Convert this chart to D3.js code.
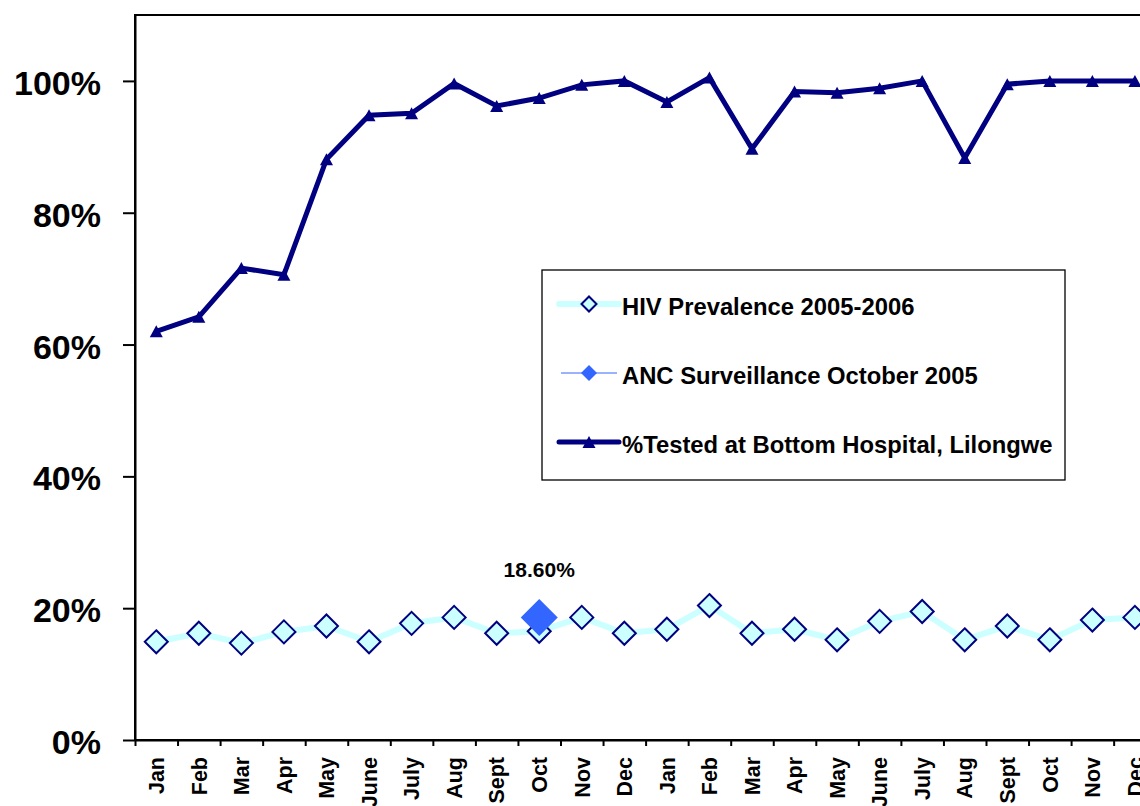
<!DOCTYPE html>
<html>
<head>
<meta charset="utf-8">
<script src="https://cdn.jsdelivr.net/npm/d3@7"></script>
<style>
  html, body { margin: 0; padding: 0; background: #fff; }
  svg { display: block; font-family: "Liberation Sans", Arial, sans-serif; font-weight: bold; }
</style>
</head>
<body>
<svg id="chart" width="1140" height="806"></svg>
<script>
// ---- Data ----
const months = ["Jan","Feb","Mar","Apr","May","June","July","Aug","Sept","Oct","Nov","Dec",
                "Jan","Feb","Mar","Apr","May","June","July","Aug","Sept","Oct","Nov","Dec"];
const hivPrevalence = [0.149,0.162,0.147,0.164,0.173,0.149,0.177,0.186,0.162,0.165,0.186,0.162,
                       0.168,0.204,0.162,0.168,0.152,0.180,0.195,0.152,0.173,0.152,0.182,0.186];
const testedPct = [0.620,0.642,0.716,0.706,0.881,0.948,0.951,0.996,0.962,0.974,0.994,1.000,
                   0.968,1.005,0.897,0.984,0.982,0.989,1.000,0.883,0.995,1.000,1.000,1.000];
const ancIndex = [9];
const ancValue = [0.186];
const ancLabel = ["18.60%"];
const yTickValues = [0, 0.2, 0.4, 0.6, 0.8, 1.0];
const yTickLabels = ["0%","20%","40%","60%","80%","100%"];
const legendLabels = ["HIV Prevalence 2005-2006", "ANC Surveillance October 2005", "%Tested at Bottom Hospital, Lilongwe"];

// ---- Layout ----
const svg = d3.select("#chart");
const pLeft = 135, pTop = 15, pBottom = 740, pRight = 135 + 24 * 42.55;
const navy = "#000080", cyan = "#CCFFFF", blue = "#3366FF";

const idx = d3.range(months.length);
const x = d3.scaleBand().domain(idx).range([pLeft, pRight]).paddingInner(0).paddingOuter(0);
const xBound = d3.scaleLinear().domain([0, months.length]).range([pLeft, pRight]);
const cx = i => x(i) + x.bandwidth() / 2;
const y = d3.scaleLinear().domain([0, 1.1]).range([pBottom, pTop]);

// plot frame
svg.append("rect").attr("x", pLeft).attr("y", pTop).attr("width", pRight - pLeft).attr("height", pBottom - pTop)
  .attr("fill", "none").attr("stroke", "#000").attr("stroke-width", 2);

// Y axis
const yAxis = d3.axisLeft(y).tickValues(yTickValues).tickFormat((d, i) => yTickLabels[i])
  .tickSize(12).tickSizeOuter(0).tickPadding(22);
const gy = svg.append("g").attr("transform", `translate(${pLeft},0)`).call(yAxis);
gy.select(".domain").attr("stroke", "#000").attr("stroke-width", 2);
gy.selectAll(".tick line").attr("stroke", "#000").attr("stroke-width", 2);
gy.selectAll(".tick text").attr("font-size", 34).attr("font-weight", "bold").attr("fill", "#000")
  .attr("font-family", "Liberation Sans, Arial, sans-serif").attr("dy", "0.40em");

// X axis: tick marks at category boundaries
const xAxisTicks = d3.axisBottom(xBound).tickValues(d3.range(months.length + 1)).tickFormat("").tickSize(6).tickSizeOuter(0);
const gx = svg.append("g").attr("transform", `translate(0,${pBottom})`).call(xAxisTicks);
gx.select(".domain").attr("stroke", "#000").attr("stroke-width", 2);
gx.selectAll(".tick line").attr("stroke", "#000").attr("stroke-width", 2);

// X labels, rotated
svg.append("g").selectAll("text").data(idx).join("text")
  .attr("transform", i => `translate(${cx(i)},757) rotate(-90)`)
  .attr("dy", "0.36em")
  .attr("text-anchor", "end")
  .attr("font-size", 21.5)
  .attr("fill", "#000")
  .text(i => months[i]);

const diamond = r => `M0,${-r}L${r},0L0,${r}L${-r},0Z`;
const triangle = (w, h) => `M0,${-h/2}L${w/2},${h/2}L${-w/2},${h/2}Z`;

// HIV prevalence line
const line = d3.line().x((d, i) => cx(i)).y(d => y(d));
svg.append("path").datum(hivPrevalence).attr("d", line)
  .attr("fill", "none").attr("stroke", cyan).attr("stroke-width", 6).attr("stroke-linejoin", "round");
svg.append("g").selectAll("path").data(hivPrevalence).join("path")
  .attr("transform", (d, i) => `translate(${cx(i)},${y(d)})`)
  .attr("d", diamond(11.5))
  .attr("fill", cyan).attr("stroke", navy).attr("stroke-width", 2);

// ANC surveillance point
svg.append("g").selectAll("path").data(ancIndex).join("path")
  .attr("transform", (d, k) => `translate(${cx(d)},${y(ancValue[k])})`)
  .attr("d", diamond(18.5))
  .attr("fill", blue);
svg.append("g").selectAll("text").data(ancIndex).join("text")
  .attr("x", d => cx(d)).attr("y", (d, k) => y(ancValue[k]) - 40)
  .attr("text-anchor", "middle").attr("font-size", 21).attr("fill", "#000")
  .text((d, k) => ancLabel[k]);

// Tested line
svg.append("path").datum(testedPct).attr("d", line)
  .attr("fill", "none").attr("stroke", navy).attr("stroke-width", 5).attr("stroke-linejoin", "miter");
svg.append("g").selectAll("path").data(testedPct).join("path")
  .attr("transform", (d, i) => `translate(${cx(i)},${y(d)})`)
  .attr("d", triangle(13, 12))
  .attr("fill", navy);

// Legend
const lg = svg.append("g");
lg.append("rect").attr("x", 542).attr("y", 270).attr("width", 523).attr("height", 210)
  .attr("fill", "#fff").attr("stroke", "#000").attr("stroke-width", 1.3);
const rowsY = [304, 373, 442];
// row 1
lg.append("line").attr("x1", 559).attr("x2", 619).attr("y1", rowsY[0]).attr("y2", rowsY[0])
  .attr("stroke", cyan).attr("stroke-width", 6).attr("stroke-linecap", "round");
lg.append("path").attr("transform", `translate(589,${rowsY[0]})`).attr("d", diamond(7.5))
  .attr("fill", cyan).attr("stroke", navy).attr("stroke-width", 2);
// row 2
lg.append("line").attr("x1", 561).attr("x2", 617).attr("y1", rowsY[1]).attr("y2", rowsY[1])
  .attr("stroke", blue).attr("stroke-width", 1);
lg.append("path").attr("transform", `translate(589,${rowsY[1]})`).attr("d", diamond(8)).attr("fill", blue);
// row 3
lg.append("line").attr("x1", 559).attr("x2", 619).attr("y1", rowsY[2]).attr("y2", rowsY[2])
  .attr("stroke", navy).attr("stroke-width", 5).attr("stroke-linecap", "round");
lg.append("path").attr("transform", `translate(589,${rowsY[2]})`).attr("d", triangle(13, 12)).attr("fill", navy);
lg.selectAll("text.lt").data(legendLabels).join("text").attr("class", "lt")
  .attr("x", 622).attr("y", (d, i) => rowsY[i] + 10.5)
  .attr("font-size", 23.8).attr("fill", "#000")
  .text(d => d);
</script>
</body>
</html>
